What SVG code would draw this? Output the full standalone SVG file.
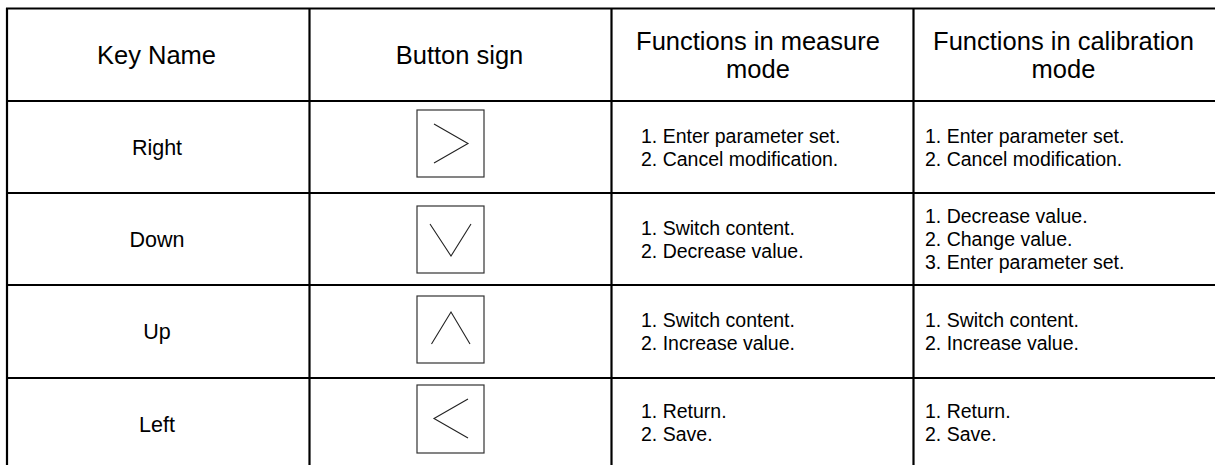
<svg xmlns="http://www.w3.org/2000/svg" width="1215" height="465" viewBox="0 0 1215 465">
<style>
.grid line{stroke:#000;stroke-width:2.2}
text{font-family:"Liberation Sans",Arial,sans-serif;fill:#000}
.h{font-size:25.5px;text-anchor:middle}
.k{font-size:21.5px;text-anchor:middle}
.b{font-size:19.5px}
.box{fill:#fff;stroke:#333;stroke-width:1.2}
.chev{fill:none;stroke:#222;stroke-width:1.1}
</style>
<rect width="1215" height="465" fill="#fff"/>
<g id="grid" class="grid">
<line x1="6" y1="8.5" x2="1215" y2="8.5"/>
<line x1="7" y1="8" x2="7" y2="465"/>
<line x1="309.5" y1="8" x2="309.5" y2="465"/>
<line x1="611.5" y1="8" x2="611.5" y2="465"/>
<line x1="913.5" y1="8" x2="913.5" y2="465"/>
<line x1="7" y1="101" x2="1215" y2="101"/>
<line x1="7" y1="193" x2="1215" y2="193"/>
<line x1="7" y1="285" x2="1215" y2="285"/>
<line x1="7" y1="378" x2="1215" y2="378"/>
</g>
<g id="header">
<text class="h" x="156.5" y="64">Key Name</text>
<text class="h" x="459.5" y="64">Button sign</text>
<text class="h" x="758" y="50">Functions in measure</text>
<text class="h" x="758" y="78">mode</text>
<text class="h" x="1063.5" y="50">Functions in calibration</text>
<text class="h" x="1063.5" y="78">mode</text>
</g>
<g id="row-right">
<text class="k" x="157" y="154.5">Right</text>
<rect class="box" x="417" y="110" width="67" height="67"/>
<polyline class="chev" points="434,124 468,143.5 434,163"/>
<text class="b" x="641" y="143">1. Enter parameter set.</text>
<text class="b" x="641" y="166">2. Cancel modification.</text>
<text class="b" x="925" y="143">1. Enter parameter set.</text>
<text class="b" x="925" y="166">2. Cancel modification.</text>
</g>
<g id="row-down">
<text class="k" x="157" y="246.5">Down</text>
<rect class="box" x="417" y="206" width="67" height="67"/>
<polyline class="chev" points="430,224 451,256 471,224"/>
<text class="b" x="641" y="235">1. Switch content.</text>
<text class="b" x="641" y="258">2. Decrease value.</text>
<text class="b" x="925" y="223">1. Decrease value.</text>
<text class="b" x="925" y="246">2. Change value.</text>
<text class="b" x="925" y="269">3. Enter parameter set.</text>
</g>
<g id="row-up">
<text class="k" x="157" y="339">Up</text>
<rect class="box" x="417" y="296" width="67" height="67"/>
<polyline class="chev" points="431.5,344 451,312 470,344"/>
<text class="b" x="641" y="327">1. Switch content.</text>
<text class="b" x="641" y="350">2. Increase value.</text>
<text class="b" x="925" y="327">1. Switch content.</text>
<text class="b" x="925" y="350">2. Increase value.</text>
</g>
<g id="row-left">
<text class="k" x="157" y="431.5">Left</text>
<rect class="box" x="417" y="385" width="67" height="68"/>
<polyline class="chev" points="468,399 434,418.5 468,438"/>
<text class="b" x="641" y="418">1. Return.</text>
<text class="b" x="641" y="441">2. Save.</text>
<text class="b" x="925" y="418">1. Return.</text>
<text class="b" x="925" y="441">2. Save.</text>
</g>
</svg>
